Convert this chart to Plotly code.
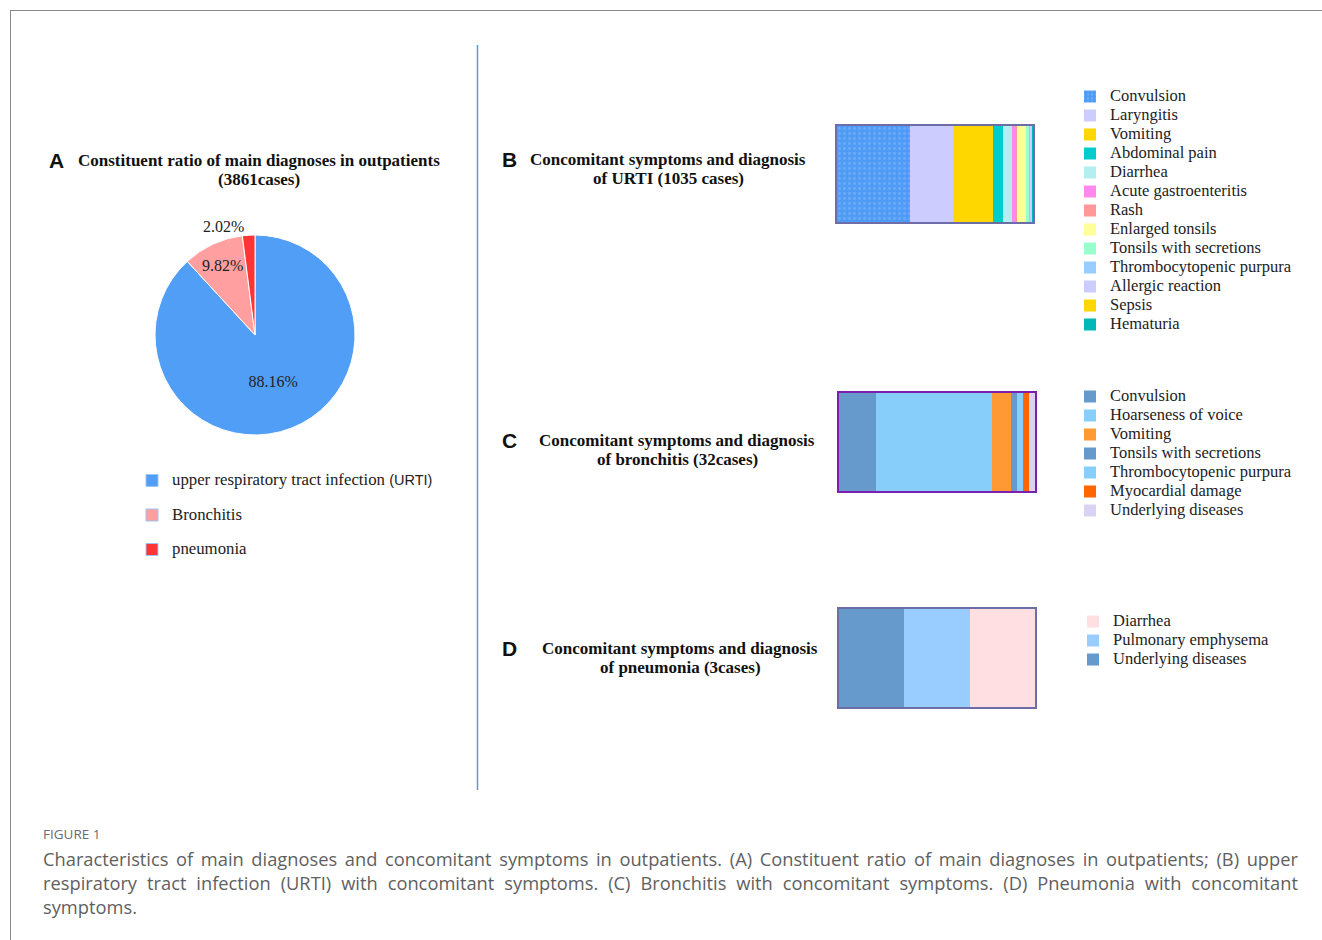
import plotly.graph_objects as go

W, H = 1322, 940

# ---------------- data ----------------
pie_labels = ["upper respiratory tract infection (URTI)", "Bronchitis", "pneumonia"]
pie_legend_names = ["upper respiratory tract infection <span style=\"font-family:'Liberation Sans';font-size:14.5px\">(URTI)</span>",
                    "Bronchitis", "pneumonia"]
pie_values = [3404, 379, 78]
pie_colors = ["#519ef7", "#ff9f9f", "#ff3535"]

urti_labels = ["Convulsion", "Laryngitis", "Vomiting", "Abdominal pain", "Diarrhea",
               "Acute gastroenteritis", "Rash", "Enlarged tonsils", "Tonsils with secretions",
               "Thrombocytopenic purpura", "Allergic reaction", "Sepsis", "Hematuria"]
urti_values = [383, 228, 213, 53, 49, 12, 13, 45, 18, 9, 8, 2, 2]
urti_colors = ["#4f9bf5", "#ccccff", "#ffd700", "#00cccc", "#b4eeee", "#ff88ee", "#ff9999",
               "#ffff99", "#99ffcc", "#99ccff", "#ccccff", "#ffd700", "#00b8b8"]

bron_labels = ["Convulsion", "Hoarseness of voice", "Vomiting", "Tonsils with secretions",
               "Thrombocytopenic purpura", "Myocardial damage", "Underlying diseases"]
bron_values = [6, 19, 3, 1, 1, 1, 1]
bron_colors = ["#6699cc", "#87cefa", "#ff9933", "#6699cc", "#87cefa", "#ff6600", "#d9d2f5"]

pneu_labels = ["Underlying diseases", "Pulmonary emphysema", "Diarrhea"]
pneu_values = [1, 1, 1]
pneu_colors = ["#6699cc", "#99ccff", "#ffdfe2"]


def px(x):
    return x / W


def py(y):
    return 1 - y / H


SERIF = "Liberation Serif"
SANS = "Liberation Sans"

fig = go.Figure()

# ---------------- pie A ----------------
fig.add_trace(go.Pie(
    labels=pie_labels, values=pie_values, sort=False, direction="clockwise", rotation=0,
    marker=dict(colors=pie_colors, line=dict(color="white", width=1)),
    texttemplate="%{percent:.2%}", textposition=["inside", "inside", "outside"],
    insidetextorientation="horizontal",
    textfont=dict(family=SERIF, size=16, color="#222222"),
    showlegend=False, hoverinfo="label+value+percent",
    domain=dict(x=[px(155), px(355)], y=[py(435), py(235)]),
))

# legend-only entries for the pie categories
for name, col, lab in zip(pie_legend_names, pie_colors, pie_labels):
    fig.add_trace(go.Bar(
        x=[None], y=[None], orientation="h", name=f'<span style="font-size:16.8px">{name}</span>',
        marker=dict(color=col, line=dict(color="#9ec3f5", width=1)),
        legend="legend", legendgroup=lab, showlegend=True, xaxis="x", yaxis="y",
    ))

# ---------------- stacked bars ----------------
def add_stack(labels, values, colors, xa, ya, leg):
    for i, (lab, v, c) in enumerate(zip(labels, values, colors)):
        marker = dict(color=c, line=dict(width=0))
        if xa == "x" and i == 0:
            marker["pattern"] = dict(shape=".", fgcolor="#86bdf9", bgcolor=c, size=5, solidity=0.25)
        fig.add_trace(go.Bar(
            x=[v], y=[0], orientation="h", width=1, name=f'<span style="font-size:16.5px">{lab}</span>',
            marker=marker, xaxis=xa, yaxis=ya, legend=leg, showlegend=True,
            hovertemplate=lab + ": %{x}<extra></extra>",
        ))


add_stack(urti_labels, urti_values, urti_colors, "x", "y", "legend2")
add_stack(bron_labels, bron_values, bron_colors, "x2", "y2", "legend3")
add_stack(pneu_labels, pneu_values, pneu_colors, "x3", "y3", "legend4")


def xaxis_cfg(xd, total, color, anchor):
    return dict(domain=xd, range=[0, total], showticklabels=False, showgrid=False, zeroline=False,
                showline=True, mirror=True, linecolor=color, linewidth=2, fixedrange=True, ticks="",
                anchor=anchor)


def yaxis_cfg(yd, color, anchor):
    return dict(domain=yd, range=[-0.5, 0.5], showticklabels=False, showgrid=False, zeroline=False,
                showline=True, mirror=True, linecolor=color, linewidth=2, fixedrange=True,
                anchor=anchor, ticks="")


legend_common = dict(xanchor="left", yanchor="top", bgcolor="rgba(0,0,0,0)", borderwidth=0,
                     font=dict(family=SERIF, size=12, color="#222222"), itemclick=False,
                     itemdoubleclick=False)

fig.update_layout(
    width=W, height=H, margin=dict(l=0, r=0, t=0, b=0, pad=0, autoexpand=False),
    paper_bgcolor="white", plot_bgcolor="white", barmode="stack", bargap=0,
    xaxis=xaxis_cfg([px(837), px(1033)], sum(urti_values), "#6d6da8", "y"),
    yaxis=yaxis_cfg([py(222), py(126)], "#6d6da8", "x"),
    xaxis2=xaxis_cfg([px(839), px(1035)], sum(bron_values), "#7a1fb0", "y2"),
    yaxis2=yaxis_cfg([py(491), py(393)], "#7a1fb0", "x2"),
    xaxis3=xaxis_cfg([px(839), px(1035)], sum(pneu_values), "#6d6da8", "y3"),
    yaxis3=yaxis_cfg([py(707), py(609)], "#6d6da8", "x3"),
    legend=dict(legend_common, x=px(132), y=py(466), traceorder="grouped", tracegroupgap=15.5),
    legend2=dict(legend_common, x=px(1070), y=py(82), traceorder="normal"),
    legend3=dict(legend_common, x=px(1070), y=py(382), traceorder="normal"),
    legend4=dict(legend_common, x=px(1073), y=py(607), traceorder="reversed"),
    showlegend=True,
)

# ---------------- decorative lines ----------------
shapes = [
    dict(type="line", xref="paper", yref="paper", x0=px(10), x1=px(1322), y0=py(10.5), y1=py(10.5),
         line=dict(color="#8a8a8a", width=1)),
    dict(type="line", xref="paper", yref="paper", x0=px(10.5), x1=px(10.5), y0=py(10), y1=py(940),
         line=dict(color="#8a8a8a", width=1)),
    dict(type="line", xref="paper", yref="paper", x0=px(477.5), x1=px(477.5), y0=py(45), y1=py(790),
         line=dict(color="#5b9bd5", width=1.5)),
]
fig.update_layout(shapes=shapes)

# ---------------- titles ----------------
def ann(x, y, text, size, family, color="#111111", xanchor="center", bold=False):
    fig.add_annotation(x=px(x), y=py(y), xref="paper", yref="paper", text=text, showarrow=False,
                       xanchor=xanchor, yanchor="middle", align="center",
                       font=dict(size=size, family=family, color=color,
                                 weight="bold" if bold else "normal"))


TS = 17
titles = [
    ("A", 56, 160, 259, "Constituent ratio of main diagnoses in outpatients", "(3861cases)"),
    ("B", 509, 159, 668, "Concomitant symptoms and diagnosis", "of URTI (1035 cases)"),
    ("C", 509, 440, 677, "Concomitant symptoms and diagnosis", "of bronchitis (32cases)"),
    ("D", 509, 648, 680, "Concomitant symptoms and diagnosis", "of pneumonia (3cases)"),
]
for letter, lx, ly, tx, l1, l2 in titles:
    ann(lx, ly, letter, 21, SANS, bold=True)
    ann(tx, ly + 0.5, l1, TS, SERIF, bold=True)
    ann(tx, ly + 19.5, l2, TS, SERIF, bold=True)

# ---------------- caption ----------------
CAP = "Open Sans"
ann(41, 834, "FIGURE 1", 13.5, CAP, color="#6b6b6b", xanchor="left")
cap_lines = [
    "Characteristics of main diagnoses and concomitant symptoms in outpatients. (A) Constituent ratio of main diagnoses in outpatients; (B) upper",
    "respiratory tract infection (URTI) with concomitant symptoms. (C) Bronchitis with concomitant symptoms. (D) Pneumonia with concomitant",
    "symptoms.",
]
gap_sizes = [11, 20, 0]  # font size of the extra stretch space per line (justification)
for i, (line, g) in enumerate(zip(cap_lines, gap_sizes)):
    if g:
        line = line.replace(" ", f' <span style="font-size:{g}px">&nbsp;</span>')
    ann(41, 858 + 24 * i, line, 18.3, CAP, color="#5f5f5f", xanchor="left")

fig.write_html("out.html")
